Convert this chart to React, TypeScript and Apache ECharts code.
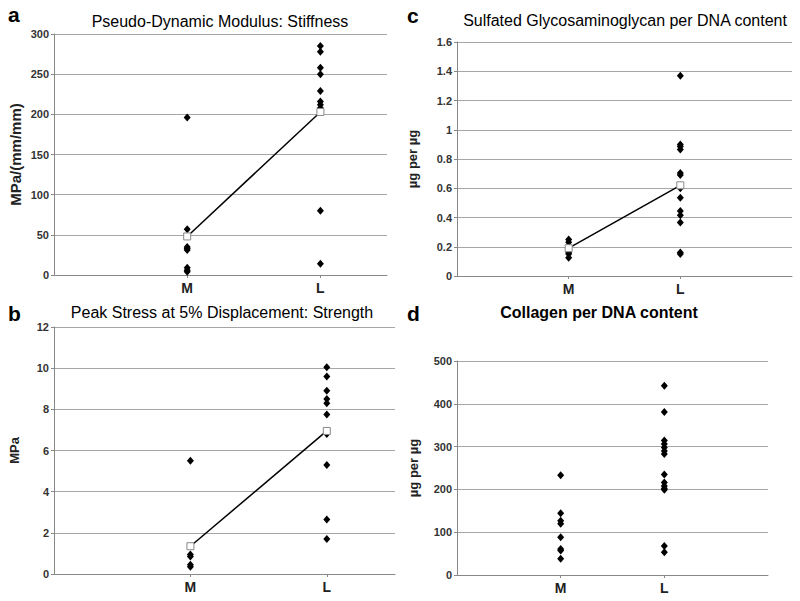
import React, { useEffect, useRef } from "react";
import * as echarts from "echarts";

const groups = ["M", "L"];

// Panel a: Pseudo-Dynamic Modulus (MPa/(mm/mm))
const stiffM = [196, 57, 35, 33, 31, 9, 6, 4];
const stiffL = [285, 278, 258, 250, 229, 216, 212, 208, 80, 14];
const stiffMean = [48, 203];

// Panel b: Peak stress (MPa)
const strengthM = [5.5, 0.95, 0.85, 0.45, 0.35];
const strengthL = [10.05, 9.6, 8.9, 8.5, 8.3, 7.75, 6.8, 5.3, 2.65, 1.7];
const strengthMean = [1.35, 6.95];

// Panel c: sGAG per DNA
const gagM = [0.25, 0.23, 0.2, 0.16, 0.15, 0.125];
const gagL = [1.37, 0.9, 0.885, 0.865, 0.705, 0.69, 0.6, 0.535, 0.445, 0.415, 0.365, 0.16, 0.15];
const gagMean = [0.19, 0.62];

// Panel d: Collagen per DNA
const colM = [233, 144, 127, 120, 88, 61, 57, 38];
const colL = [442, 381, 314, 306, 298, 290, 283, 235, 216, 208, 202, 199, 68, 53];

const titles = [
  "Pseudo-Dynamic Modulus: Stiffness",
  "Peak Stress at 5% Displacement: Strength",
  "Sulfated Glycosaminoglycan per DNA content",
  "Collagen per DNA content",
];
const yNames = ["MPa/(mm/mm)", "MPa", "\u00b5g per \u00b5g", "\u00b5g per \u00b5g"];
const letters = ["a", "b", "c", "d"];

const FONT = "Liberation Sans, Arial, sans-serif";

function pts(vals: number[], gi: number) {
  return vals.map((v) => [gi + 1, v]);
}

export default function App() {
  const ref = useRef<HTMLDivElement>(null);
  useEffect(() => {
    if (!ref.current) return;
    const chart = echarts.init(ref.current, undefined, { renderer: "svg" });

    const grids = [
      { left: 54, top: 34, width: 333, height: 241 },
      { left: 54, top: 327, width: 341, height: 247 },
      { left: 457, top: 42, width: 335, height: 234 },
      { left: 457, top: 361, width: 311, height: 214 },
    ];
    const xMax = [2.5, 2.5, 3, 3];
    const yCfg = [
      { max: 300, interval: 50, gap: 31, nameSize: 15 },
      { max: 12, interval: 2, gap: 33, nameSize: 13 },
      { max: 1.6, interval: 0.2, gap: 38, nameSize: 13 },
      { max: 500, interval: 100, gap: 37, nameSize: 13 },
    ];

    const xAxis = grids.map((_, i) => ({
      type: "value",
      gridIndex: i,
      min: 0,
      max: xMax[i],
      interval: 1,
      axisLine: { show: true, lineStyle: { color: "#888", width: 1 } },
      axisTick: { show: true, length: 3, customValues: [1, 2], lineStyle: { color: "#888" } },
      splitLine: { show: false },
      axisLabel: {
        customValues: [1, 2],
        formatter: (v: number) => groups[Math.round(v) - 1] ?? "",
        fontFamily: FONT,
        fontWeight: "bold",
        fontSize: 14,
        color: "#222",
        margin: 6,
      },
    }));

    const yAxis = grids.map((_, i) => ({
      type: "value",
      gridIndex: i,
      min: 0,
      max: yCfg[i].max,
      interval: yCfg[i].interval,
      name: yNames[i],
      nameLocation: "middle",
      nameGap: yCfg[i].gap,
      nameTextStyle: { fontFamily: FONT, fontWeight: "bold", fontSize: yCfg[i].nameSize, color: "#222" },
      axisLine: { show: true, lineStyle: { color: "#888", width: 1 } },
      axisTick: { show: true, length: 3, lineStyle: { color: "#888" } },
      splitLine: { show: true, lineStyle: { color: "#a6a6a6", width: 1 } },
      axisLabel: {
        fontFamily: FONT,
        fontWeight: "bold",
        fontSize: 11,
        color: "#333",
        margin: 5,
      },
    }));

    const diamond = (i: number, vals: number[], gi: number) => ({
      type: "scatter",
      xAxisIndex: i,
      yAxisIndex: i,
      symbol: "diamond",
      symbolSize: [7, 8],
      itemStyle: { color: "#000", opacity: 1 },
      data: pts(vals, gi),
      z: 2,
    });
    const meanLine = (i: number, means: number[]) => ({
      type: "line",
      xAxisIndex: i,
      yAxisIndex: i,
      symbol: "rect",
      symbolSize: 7,
      showSymbol: true,
      itemStyle: { color: "#fff", borderColor: "#888", borderWidth: 1 },
      lineStyle: { color: "#000", width: 1.5 },
      data: means.map((m, gi) => [gi + 1, m]),
      z: 3,
    });

    const series = [
      diamond(0, stiffM, 0),
      diamond(0, stiffL, 1),
      meanLine(0, stiffMean),
      diamond(1, strengthM, 0),
      diamond(1, strengthL, 1),
      meanLine(1, strengthMean),
      diamond(2, gagM, 0),
      diamond(2, gagL, 1),
      meanLine(2, gagMean),
      diamond(3, colM, 0),
      diamond(3, colL, 1),
    ];

    const titlePos = [
      { x: 220, y: 21, bold: false },
      { x: 222, y: 312, bold: false },
      { x: 625, y: 20, bold: false },
      { x: 599, y: 312, bold: true },
    ];
    const letterPos = [
      { x: 8, y: 14 },
      { x: 8, y: 313 },
      { x: 407, y: 15 },
      { x: 407, y: 313 },
    ];

    const graphic: any[] = [];
    titles.forEach((t, i) => {
      graphic.push({
        type: "text",
        x: titlePos[i].x,
        y: titlePos[i].y,
        style: {
          text: t,
          font: `${titlePos[i].bold ? "bold " : ""}16px ${FONT}`,
          fill: "#000",
          textAlign: "center",
          textVerticalAlign: "middle",
        },
      });
    });
    letters.forEach((l, i) => {
      graphic.push({
        type: "text",
        x: letterPos[i].x,
        y: letterPos[i].y,
        style: {
          text: l,
          font: `bold 21px ${FONT}`,
          fill: "#000",
          textAlign: "left",
          textVerticalAlign: "middle",
        },
      });
    });

    chart.setOption({
      animation: false,
      backgroundColor: "#fff",
      grid: grids,
      xAxis,
      yAxis,
      series,
      graphic,
    } as any);

    return () => chart.dispose();
  }, []);

  return (
    <div
      ref={ref}
      style={{ position: "fixed", left: 0, top: 0, width: 800, height: 601 }}
    />
  );
}
